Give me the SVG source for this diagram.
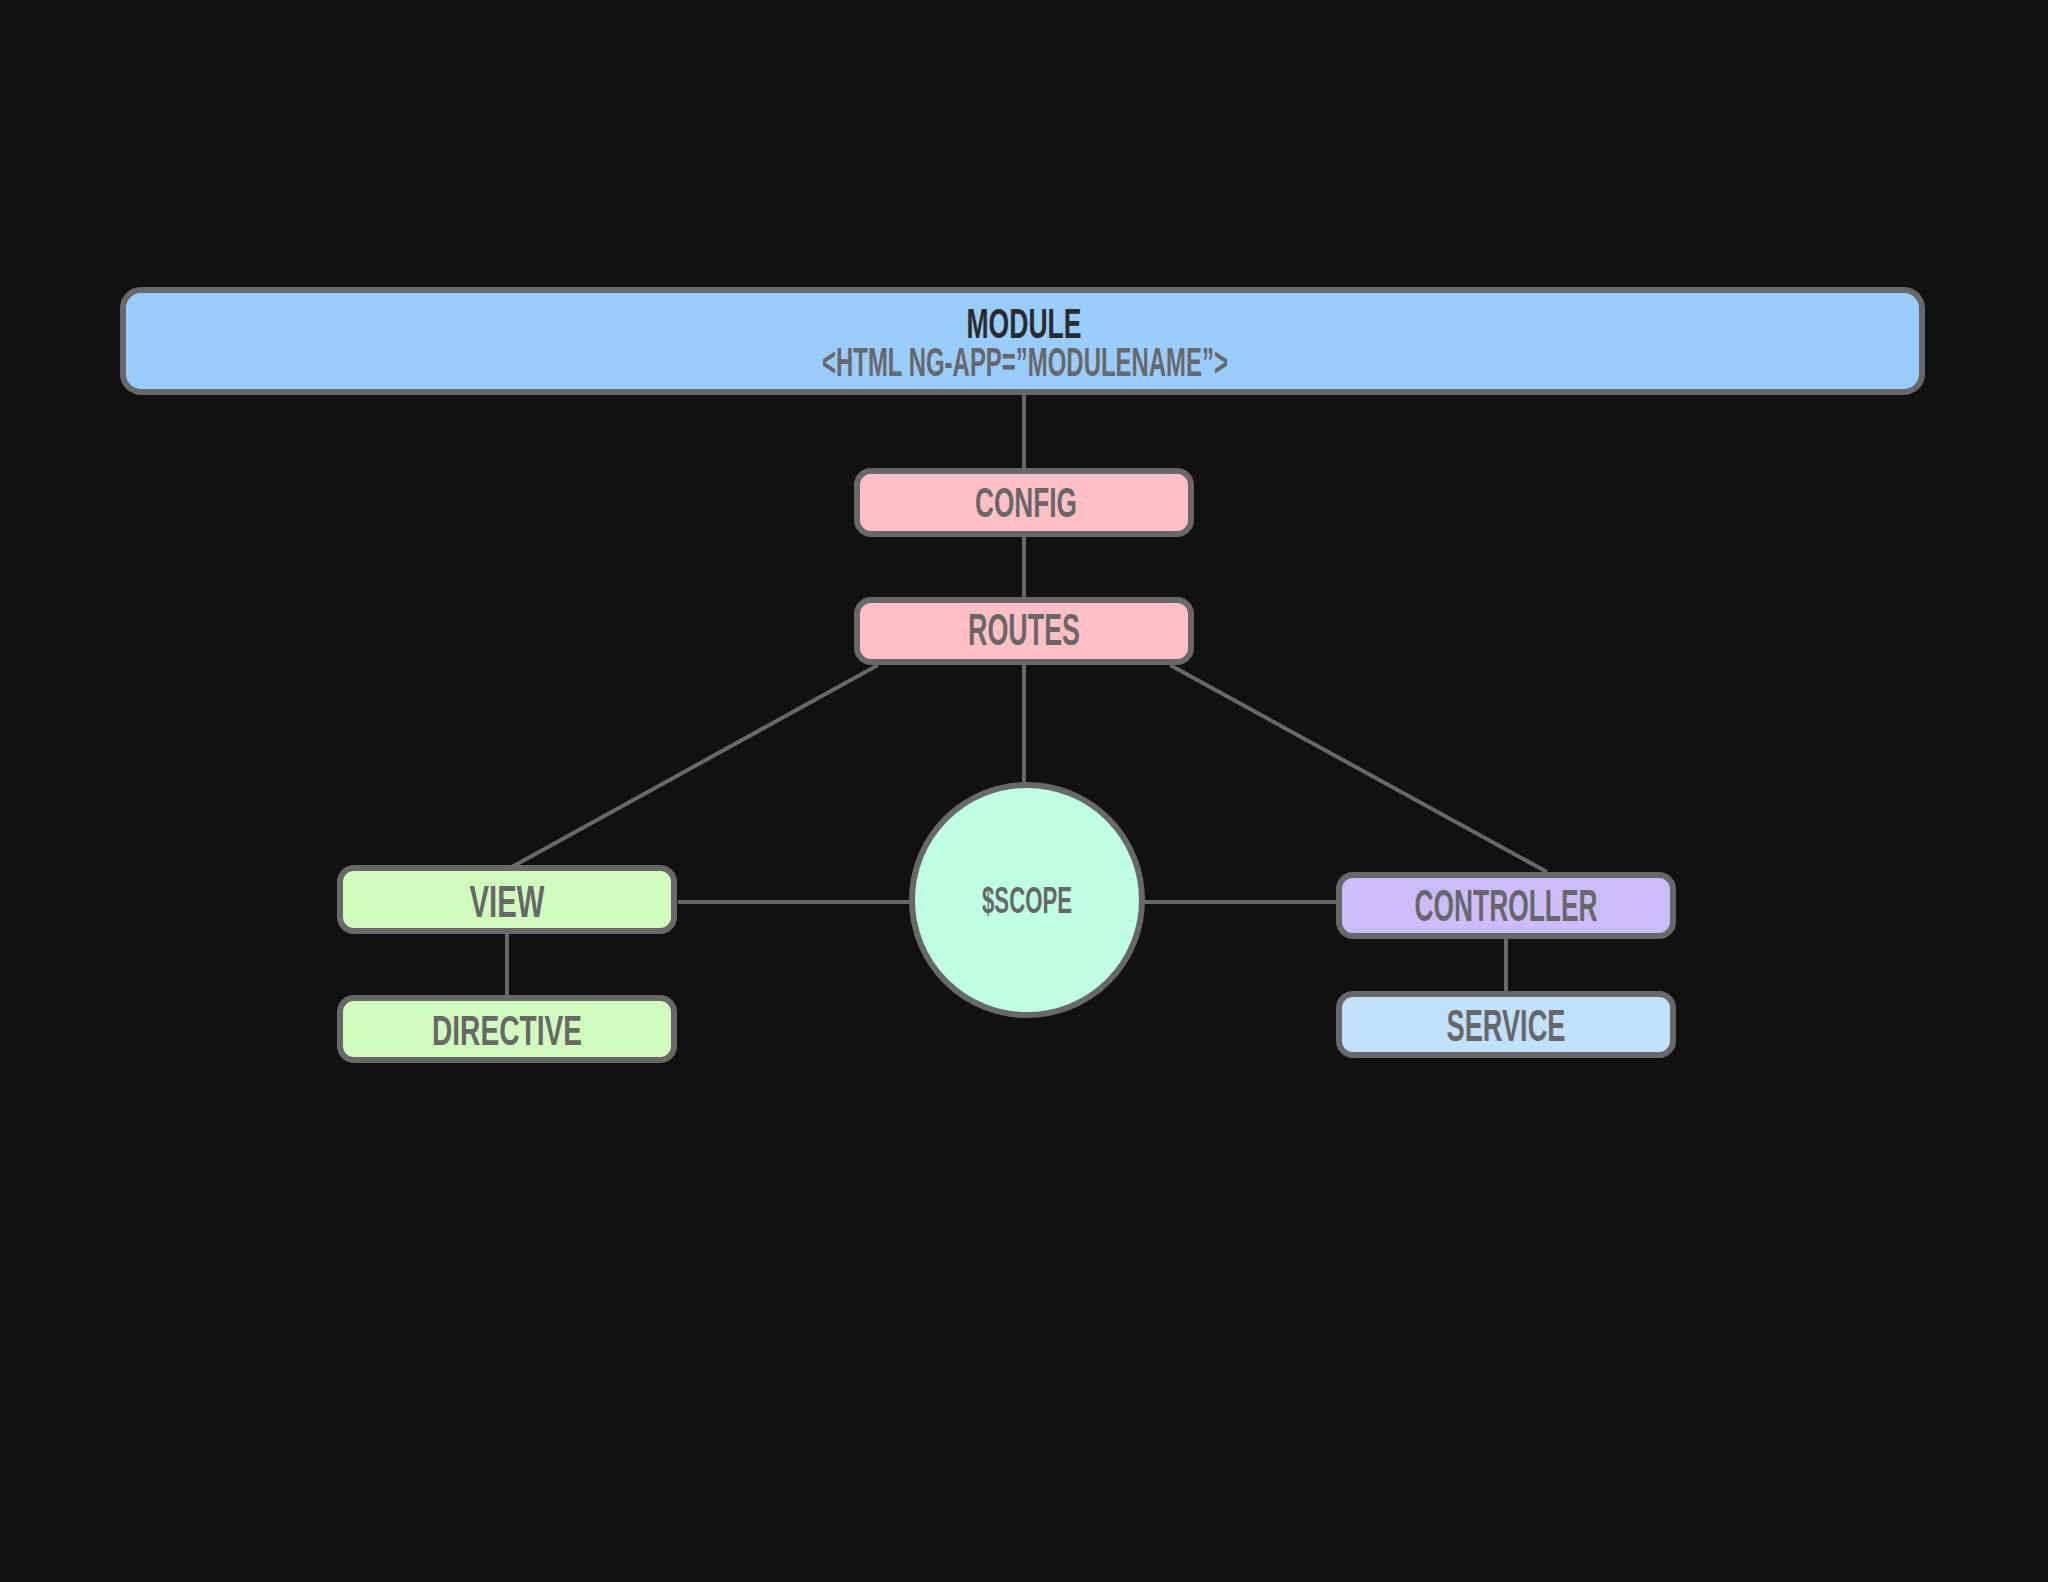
<svg xmlns="http://www.w3.org/2000/svg" width="2048" height="1582" viewBox="0 0 2048 1582">
<style>
.box{stroke:#686868;stroke-width:6}
.ln{stroke:#686868;stroke-width:4;fill:none}
.t{font-family:"Liberation Sans Narrow","Liberation Sans",Arial,sans-serif;font-weight:bold;fill:#686868;text-anchor:middle}
</style>
<rect width="2048" height="1582" fill="#121112"/>
<g id="connectors">
<line class="ln" x1="1024" y1="394" x2="1024" y2="469"/>
<line class="ln" x1="1024" y1="536" x2="1024" y2="598"/>
<line class="ln" x1="1024" y1="664" x2="1024" y2="784"/>
<line class="ln" x1="878" y1="665" x2="510" y2="868"/>
<line class="ln" x1="1170" y1="665" x2="1547" y2="872"/>
<line class="ln" x1="678" y1="902" x2="912" y2="902"/>
<line class="ln" x1="1141" y1="902" x2="1338" y2="902"/>
<line class="ln" x1="507" y1="933" x2="507" y2="997"/>
<line class="ln" x1="1506" y1="937" x2="1506" y2="993"/>
</g>
<g id="module">
<rect class="box" x="123" y="290" width="1799" height="102" rx="18" fill="#99ccff"/>
<text class="t" x="1024" y="338" font-size="43" textLength="115" lengthAdjust="spacingAndGlyphs" style="fill:#2b2b2b">MODULE</text>
<text class="t" x="1025" y="376" font-size="40" textLength="406" lengthAdjust="spacingAndGlyphs">&lt;HTML NG-APP=”MODULENAME”&gt;</text>
</g>
<g id="config">
<rect class="box" x="857" y="471" width="334" height="63" rx="14" fill="#ffbfc4"/>
<text class="t" x="1026" y="517" font-size="42" textLength="102" lengthAdjust="spacingAndGlyphs">CONFIG</text>
</g>
<g id="routes">
<rect class="box" x="857" y="600" width="334" height="62" rx="14" fill="#ffbfc4"/>
<text class="t" x="1024" y="645" font-size="44" textLength="112" lengthAdjust="spacingAndGlyphs">ROUTES</text>
</g>
<g id="view">
<rect class="box" x="340" y="868" width="334" height="63" rx="14" fill="#d0fdbe"/>
<text class="t" x="507" y="917" font-size="44" textLength="75" lengthAdjust="spacingAndGlyphs">VIEW</text>
</g>
<g id="directive">
<rect class="box" x="340" y="998" width="334" height="62" rx="14" fill="#d0fdbe"/>
<text class="t" x="507" y="1045" font-size="43" textLength="150" lengthAdjust="spacingAndGlyphs">DIRECTIVE</text>
</g>
<g id="scope">
<circle class="box" cx="1027" cy="900" r="115" fill="#bfffe3"/>
<text class="t" x="1027" y="913" font-size="36" textLength="90" lengthAdjust="spacingAndGlyphs">$SCOPE</text>
</g>
<g id="controller">
<rect class="box" x="1339" y="875" width="334" height="61" rx="14" fill="#cbbdfc"/>
<text class="t" x="1506" y="921" font-size="45" textLength="183" lengthAdjust="spacingAndGlyphs">CONTROLLER</text>
</g>
<g id="service">
<rect class="box" x="1339" y="994" width="334" height="61" rx="14" fill="#c2e1fd"/>
<text class="t" x="1506" y="1041" font-size="45" textLength="119" lengthAdjust="spacingAndGlyphs">SERVICE</text>
</g>
</svg>
